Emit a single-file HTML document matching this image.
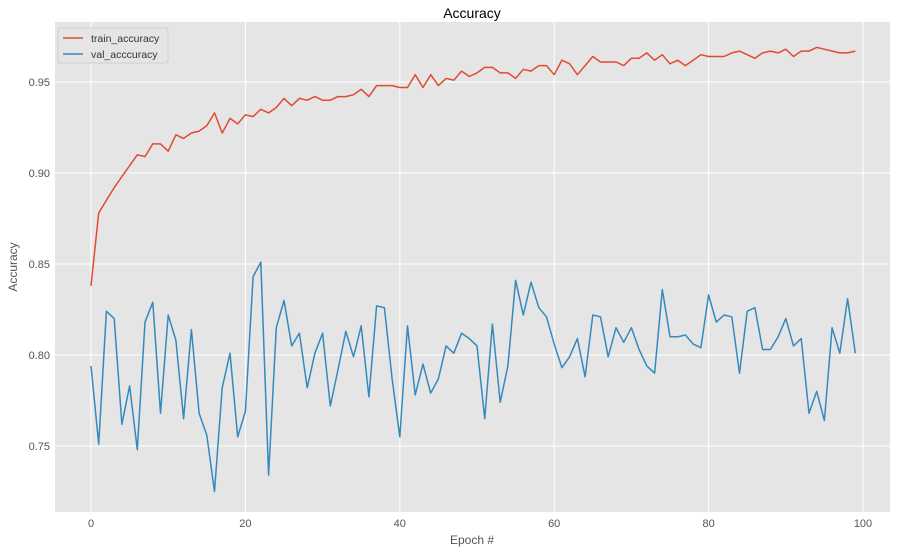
<!DOCTYPE html>
<html><head><meta charset="utf-8"><style>
body{margin:0;background:#fff;font-family:"Liberation Sans","DejaVu Sans",sans-serif;}
svg text{fill:#555;font-size:11px;}
</style></head><body>
<svg width="897" height="554" xmlns="http://www.w3.org/2000/svg">
<rect x="0" y="0" width="897" height="554" fill="#fff"/>
<rect x="55" y="22" width="835" height="490" fill="#e5e5e5"/>
<g id="grid"></g>
<g id="ticks"></g>
<g id="lines"></g>
<text x="472" y="18" text-anchor="middle" style="font-size:14px;fill:#000">Accuracy</text>
<text x="472" y="544" text-anchor="middle" style="font-size:12px;fill:#555">Epoch #</text>
<text x="17" y="267" text-anchor="middle" transform="rotate(-90 17 267)" style="font-size:12px;fill:#555">Accuracy</text>
<g>
<rect x="58" y="28" width="110" height="35" rx="3" fill="#e5e5e5" stroke="#ccc" opacity="0.9"/>
<line x1="63" y1="38" x2="83" y2="38" stroke="#e24a33" stroke-width="1.5"/>
<text x="91" y="42" style="fill:#333;font-size:10.5px">train_accuracy</text>
<line x1="63" y1="54" x2="83" y2="54" stroke="#348abd" stroke-width="1.5"/>
<text x="91" y="58" style="fill:#333;font-size:10.5px">val_acccuracy</text>
</g>
</svg>
<script>
const xTicks=[0,20,40,60,80,100];
const yTicks=[0.75,0.80,0.85,0.90,0.95];
const yTickLabels=["0.75","0.80","0.85","0.90","0.95"];
const trainAcc=[.838,.878,.885,.892,.898,.904,.910,.909,.916,.916,.912,.921,.919,.922,.923,.926,.933,.922,.930,.927,.932,.931,.935,.933,.936,.941,.937,.941,.940,.942,.940,.940,.942,.942,.943,.946,.942,.948,.948,.948,.947,.947,.954,.947,.954,.948,.952,.951,.956,.953,.955,.958,.958,.955,.955,.952,.957,.956,.959,.959,.954,.962,.960,.954,.959,.964,.961,.961,.961,.959,.963,.963,.966,.962,.965,.960,.962,.959,.962,.965,.964,.964,.964,.966,.967,.965,.963,.966,.967,.966,.968,.964,.967,.967,.969,.968,.967,.966,.966,.967];
const valAcc=[.794,.751,.824,.820,.762,.783,.748,.818,.829,.768,.822,.808,.765,.814,.768,.756,.725,.782,.801,.755,.769,.843,.851,.734,.815,.830,.805,.812,.782,.801,.812,.772,.792,.813,.799,.816,.777,.827,.826,.787,.755,.816,.778,.795,.779,.787,.805,.801,.812,.809,.805,.765,.817,.774,.794,.841,.822,.840,.826,.821,.806,.793,.799,.809,.788,.822,.821,.799,.815,.807,.815,.803,.794,.790,.836,.810,.810,.811,.806,.804,.833,.818,.822,.821,.790,.824,.826,.803,.803,.810,.820,.805,.809,.768,.780,.764,.815,.801,.831,.801];
const NS="http://www.w3.org/2000/svg";
const X=v=>91+v*7.72;
const Y=v=>355-(v-0.80)*1820;
const grid=document.getElementById('grid'),ticks=document.getElementById('ticks'),lines=document.getElementById('lines');
xTicks.forEach(t=>{
  const l=document.createElementNS(NS,'line');
  l.setAttribute('x1',X(t));l.setAttribute('x2',X(t));l.setAttribute('y1',22);l.setAttribute('y2',512);
  l.setAttribute('stroke','#fff');l.setAttribute('stroke-width','1');
  
  
  grid.appendChild(l);
  const tx=document.createElementNS(NS,'text');
  tx.setAttribute('x',X(t));tx.setAttribute('y',527);tx.setAttribute('text-anchor','middle');
  tx.textContent=t;
  
  
  ticks.appendChild(tx);
});
yTicks.forEach((t,i)=>{
  const l=document.createElementNS(NS,'line');
  l.setAttribute('x1',55);l.setAttribute('x2',890);l.setAttribute('y1',Y(t));l.setAttribute('y2',Y(t));
  l.setAttribute('stroke','#fff');l.setAttribute('stroke-width','1');
  
  
  grid.appendChild(l);
  const tx=document.createElementNS(NS,'text');
  tx.setAttribute('x',50);tx.setAttribute('y',Y(t)+4);tx.setAttribute('text-anchor','end');
  tx.textContent=yTickLabels[i];
  
  
  ticks.appendChild(tx);
});
function line(arr,color,name){
  const p=document.createElementNS(NS,'polyline');
  p.setAttribute('points',arr.map((v,i)=>X(i).toFixed(1)+','+Y(v).toFixed(1)).join(' '));
  p.setAttribute('fill','none');p.setAttribute('stroke',color);p.setAttribute('stroke-width','1.5');
  p.setAttribute('stroke-linejoin','round');
  
  
  lines.appendChild(p);
}
line(trainAcc,'#e24a33','train-accuracy-line');
line(valAcc,'#348abd','val-accuracy-line');
</script>
</body></html>
